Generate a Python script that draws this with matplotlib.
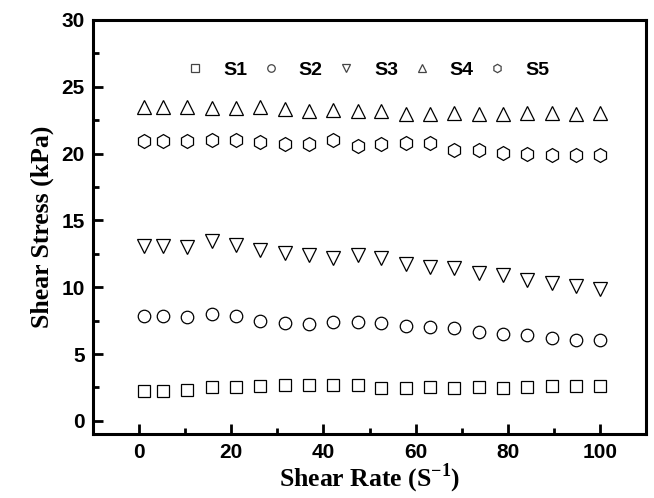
import matplotlib
matplotlib.use('Agg')
import matplotlib.pyplot as plt
from matplotlib.ticker import MultipleLocator

plt.rcParams['mathtext.fontset'] = 'custom'
plt.rcParams['mathtext.rm'] = 'Liberation Serif:bold'
plt.rcParams['mathtext.bf'] = 'Liberation Serif:bold'

# Shear rate (1/s)
shear_rate = [1, 5.3, 10.5, 15.8, 21.1, 26.3, 31.6, 36.8, 42.1, 47.4,
              52.6, 57.9, 63.2, 68.4, 73.7, 78.9, 84.2, 89.5, 94.7, 100]

# Shear stress (kPa) per sample
s1 = [2.25, 2.25, 2.28, 2.53, 2.53, 2.58, 2.7, 2.67, 2.67, 2.72,
      2.47, 2.48, 2.55, 2.47, 2.51, 2.47, 2.56, 2.6, 2.62, 2.6]
s2 = [7.82, 7.82, 7.76, 8.0, 7.82, 7.48, 7.33, 7.22, 7.38, 7.38,
      7.35, 7.1, 7.02, 6.96, 6.65, 6.5, 6.45, 6.18, 6.08, 6.06]
s3 = [13.1, 13.08, 13.03, 13.45, 13.13, 12.75, 12.55, 12.38, 12.2, 12.38,
      12.2, 11.75, 11.55, 11.47, 11.07, 10.88, 10.55, 10.28, 10.1, 9.9]
s4 = [23.5, 23.45, 23.45, 23.38, 23.38, 23.45, 23.3, 23.2, 23.28, 23.18,
      23.18, 22.95, 22.95, 23.05, 22.98, 22.98, 23.05, 23.05, 22.98, 23.02]
s5 = [20.96, 20.96, 20.95, 20.98, 21.04, 20.9, 20.7, 20.7, 20.98, 20.58,
      20.7, 20.78, 20.8, 20.28, 20.25, 20.04, 19.95, 19.92, 19.92, 19.88]

labels = ['S1', 'S2', 'S3', 'S4', 'S5']
series = [s1, s2, s3, s4, s5]
markers = ['s', 'o', 'v', '^', 'h']
sizes = [8.5, 9, 10, 10, 10]

fig = plt.figure(figsize=(6.54, 4.98), dpi=100)
ax = fig.add_axes([0.142, 0.128, 0.846, 0.832])

for y, lab, m, ms in zip(series, labels, markers, sizes):
    ax.plot(shear_rate, y, linestyle='none', marker=m, markersize=ms,
            markerfacecolor='white', markeredgecolor='black',
            markeredgewidth=0.9, label=lab)

ax.set_xlim(-10, 110)
ax.set_ylim(-1, 30)
ax.xaxis.set_major_locator(MultipleLocator(20))
ax.xaxis.set_minor_locator(MultipleLocator(10))
ax.yaxis.set_major_locator(MultipleLocator(5))
ax.yaxis.set_minor_locator(MultipleLocator(2.5))

for sp in ax.spines.values():
    sp.set_linewidth(2.2)
ax.tick_params(which='major', direction='in', length=7, width=2,
               top=False, right=False, labelsize=15, pad=6)
ax.tick_params(which='minor', direction='in', length=4, width=2,
               top=False, right=False)
for t in ax.get_xticklabels() + ax.get_yticklabels():
    t.set_fontfamily('Liberation Sans')
    t.set_fontweight('bold')

ax.set_xlabel('Shear Rate (S$^{-1}$)', fontsize=18.5,
              fontfamily='Liberation Serif', fontweight='bold', labelpad=0)
ax.set_ylabel('Shear Stress (kPa)', fontsize=18.5,
              fontfamily='Liberation Serif', fontweight='bold', labelpad=5)

leg = ax.legend(loc='center', bbox_to_anchor=(0.496, 0.879), ncol=5,
                frameon=False, markerscale=0.6, handlelength=1.0,
                handletextpad=0.95, columnspacing=0.7,
                prop={'family': 'Liberation Sans', 'weight': 'bold', 'size': 14})
for h in leg.legend_handles:
    h.set_markeredgecolor('#444444')

fig.savefig('out.png', dpi=100)
